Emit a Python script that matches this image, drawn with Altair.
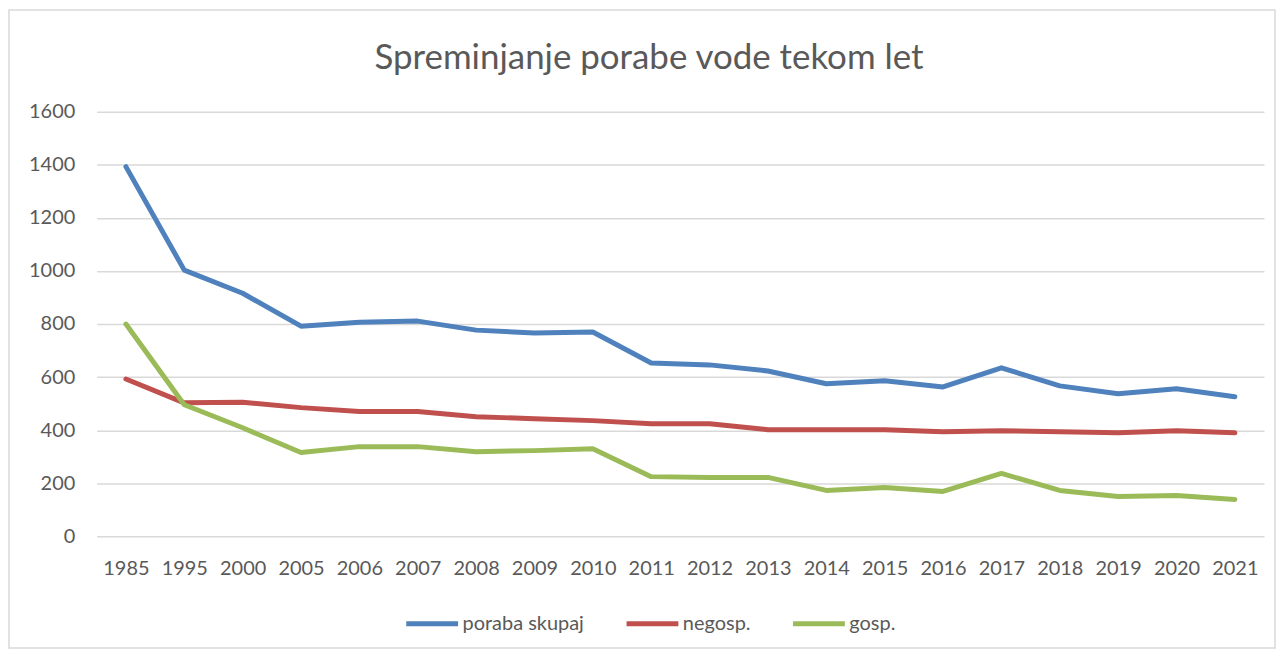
import altair as alt
import pandas as pd

years = ["1985", "1995", "2000", "2005", "2006", "2007", "2008", "2009", "2010", "2011",
         "2012", "2013", "2014", "2015", "2016", "2017", "2018", "2019", "2020", "2021"]
poraba_skupaj = [1393, 1003, 916, 792, 807, 811, 777, 766, 770, 653,
                 646, 623, 575, 586, 563, 635, 567, 537, 556, 526]
negosp = [593, 503, 505, 485, 470, 470, 451, 443, 436, 424,
          424, 402, 402, 402, 394, 398, 394, 390, 398, 390]
gosp = [800, 496, 409, 316, 338, 338, 319, 323, 330, 225,
        222, 222, 173, 184, 169, 237, 173, 150, 154, 139]
series_names = ["poraba skupaj", "negosp.", "gosp."]
series_colors = ["#4f81bd", "#c0504d", "#9bbb59"]
y_ticks = [0, 200, 400, 600, 800, 1000, 1200, 1400, 1600]
title_text = "Spreminjanje porabe vode tekom let"

rows = []
for name, vals in zip(series_names, [poraba_skupaj, negosp, gosp]):
    for i, (yr, v) in enumerate(zip(years, vals)):
        rows.append({"leto": yr, "vrednost": v, "serija": name, "order": i})
df = pd.DataFrame(rows)

FONT = "Lato"
GREY = "#595959"

lines = alt.Chart(df).mark_line(strokeWidth=5, strokeCap="round", strokeJoin="round").encode(
    x=alt.X("leto:N", sort=years, title=None,
            scale=alt.Scale(type="point", padding=0.5),
            axis=alt.Axis(labelAngle=0, labelFontSize=20, labelColor=GREY, labelFont=FONT,
                          ticks=False, domain=False, grid=False, labelPadding=22)),
    y=alt.Y("vrednost:Q", title=None,
            scale=alt.Scale(domain=[0, 1600], nice=False),
            axis=alt.Axis(values=y_ticks, format="d", labelFontSize=20, labelColor=GREY,
                          labelFont=FONT, ticks=False, domain=False, grid=True,
                          gridColor="#d9d9d9", gridWidth=1.5, labelPadding=22)),
    color=alt.Color("serija:N", sort=series_names,
                    scale=alt.Scale(domain=series_names, range=series_colors),
                    legend=alt.Legend(title=None, orient="none", legendX=308, legendY=485,
                                      direction="horizontal", symbolType="stroke",
                                      symbolSize=2700, symbolStrokeWidth=5,
                                      labelFontSize=20, labelColor=GREY, labelFont=FONT,
                                      labelOffset=2, columnPadding=32)),
    order="order:Q",
)

one = pd.DataFrame({"a": [0]})

border = alt.Chart(one).mark_rect(
    fill=None, stroke="#d9d9d9", strokeWidth=1.5
).encode(
    x=alt.value(-88), x2=alt.value(1182), y=alt.value(-102), y2=alt.value(538)
)

title = alt.Chart(one).mark_text(
    font=FONT, fontSize=35, color=GREY, align="center", baseline="middle"
).encode(
    x=alt.value(554), y=alt.value(-54), text=alt.value(title_text)
)

chart = alt.layer(border, title, lines).properties(
    width=1171, height=426,
    autosize=alt.AutoSizeParams(type="none"),
    padding={"left": 89, "top": 103, "right": 12, "bottom": 113},
).configure_view(stroke=None)

chart.save("out.html", embed_options={"renderer": "svg", "actions": False})
